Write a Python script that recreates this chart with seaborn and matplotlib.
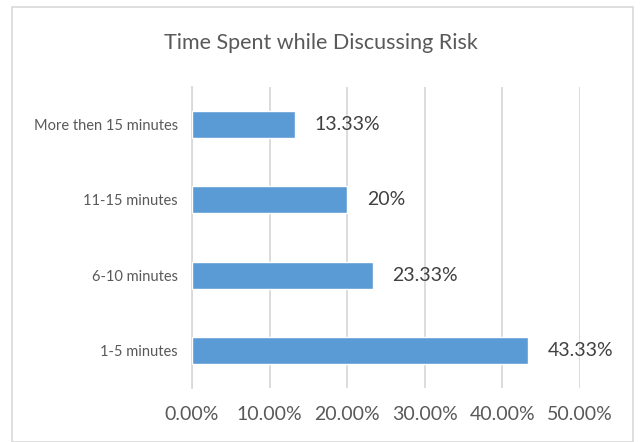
import pandas as pd
import matplotlib.pyplot as plt
import seaborn as sns
from matplotlib.patches import Rectangle
from matplotlib.ticker import FuncFormatter

categories = ["More then 15 minutes", "11-15 minutes", "6-10 minutes", "1-5 minutes"]
values = [13.33, 20, 23.33, 43.33]
value_labels = ["13.33%", "20%", "23.33%", "43.33%"]
x_ticks = [0, 10, 20, 30, 40, 50]

df = pd.DataFrame({"Time": categories, "Percent": values})

sns.set_style("white")
plt.rcParams["font.family"] = ["Lato", "DejaVu Sans"]
text_color = "#595959"
grid_color = "#D9D9D9"

fig = plt.figure(figsize=(6.42, 4.42), dpi=100)
ax = fig.add_axes([192 / 642, 1 - 388 / 442, (580 - 192) / 642, (388 - 87) / 442])

sns.barplot(data=df, x="Percent", y="Time", color="#5B9BD5", saturation=1,
            width=0.36, ax=ax, zorder=3)

ax.set_xlim(0, 50)
ax.set_xticks(x_ticks)
ax.xaxis.set_major_formatter(FuncFormatter(lambda v, p: f"{v:.2f}%"))
ax.grid(axis="x", color=grid_color, linewidth=1.3, zorder=0)
ax.set_axisbelow(True)
for s in ["top", "right", "bottom"]:
    ax.spines[s].set_visible(False)
ax.spines["left"].set_color(grid_color)
ax.spines["left"].set_linewidth(1.3)
ax.tick_params(axis="x", length=0, pad=13, labelsize=14, labelcolor=text_color)
ax.tick_params(axis="y", length=0, pad=10, labelsize=10.5, labelcolor=text_color)
ax.set_xlabel("")
ax.set_ylabel("")

ax.bar_label(ax.containers[0], labels=value_labels, padding=14,
             fontsize=14, color="#404040")

fig.text(0.5, 1 - 43 / 442, "Time Spent while Discussing Risk", ha="center",
         va="center", fontsize=15.5, color=text_color)

fig.patches.append(Rectangle((12 / 642, 0), (633 - 12) / 642, 1 - 7 / 442,
                             transform=fig.transFigure, fill=False,
                             edgecolor="#D9D9D9", linewidth=1.2))

fig.savefig("out.png", dpi=100)
